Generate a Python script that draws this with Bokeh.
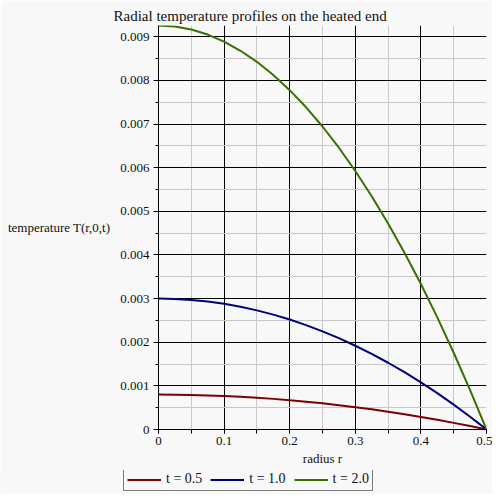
from bokeh.plotting import figure
from bokeh.layouts import column
from bokeh.models import (Range1d, SingleIntervalTicker, CustomJSTickFormatter,
                          Legend, LegendItem)
from bokeh.embed import file_html
from bokeh.resources import INLINE

# radius values (x)
radius = [0.0, 0.025, 0.05, 0.075, 0.1, 0.125, 0.15, 0.175, 0.2, 0.225, 0.25,
          0.275, 0.3, 0.325, 0.35, 0.375, 0.4, 0.425, 0.45, 0.475, 0.5]
# temperature T(r,0,t)
temp_t05 = [0.0008, 0.000798, 0.000792, 0.000782, 0.000768, 0.00075, 0.000728,
            0.000702, 0.000672, 0.000638, 0.0006, 0.000558, 0.000512, 0.000462,
            0.000408, 0.00035, 0.000288, 0.000222, 0.000152, 0.000078, 0.0]
temp_t10 = [0.003, 0.002993, 0.00297, 0.002933, 0.00288, 0.002813, 0.00273,
            0.002633, 0.00252, 0.002393, 0.00225, 0.002093, 0.00192, 0.001733,
            0.00153, 0.001313, 0.00108, 0.000833, 0.00057, 0.000293, 0.0]
temp_t20 = [0.00926, 0.009237, 0.009167, 0.009052, 0.00889, 0.008681, 0.008427,
            0.008126, 0.007778, 0.007385, 0.006945, 0.006459, 0.005926, 0.005348,
            0.004723, 0.004051, 0.003334, 0.00257, 0.001759, 0.000903, 0.0]
series_labels = ["t = 0.5", "t = 1.0", "t = 2.0"]
series_colors = ["#780000", "#000078", "#3a7000"]
series_values = [temp_t05, temp_t10, temp_t20]

FONT = "Liberation Serif"
BG = "#f8f8f8"

p = figure(width=492, height=470, output_backend="svg", toolbar_location=None,
           x_range=Range1d(0, 0.5), y_range=Range1d(0, max(temp_t20)),
           min_border_left=158, min_border_right=6, min_border_top=25,
           min_border_bottom=41, background_fill_color=BG, border_fill_color=BG,
           outline_line_color=None, frame_align=False,
           title="Radial temperature profiles on the heated end")

p.title.align = "left"
p.title.offset = -45
p.title.text_font = FONT
p.title.text_font_size = "15px"
p.title.text_font_style = "normal"
p.title.text_color = "#111111"
p.title.standoff = 3

# grids
for g in (p.xgrid, p.ygrid):
    g.grid_line_color = "black"
    g.grid_line_width = 1
    g.grid_line_alpha = 1
    g.minor_grid_line_color = "#c8c8c8"
    g.minor_grid_line_width = 1

p.xaxis.ticker = SingleIntervalTicker(interval=0.1, num_minor_ticks=2)
p.yaxis.ticker = SingleIntervalTicker(interval=0.001, num_minor_ticks=2)
p.xgrid.ticker = p.xaxis.ticker
p.ygrid.ticker = p.yaxis.ticker

p.xaxis.formatter = CustomJSTickFormatter(code="return Math.abs(tick) < 1e-12 ? '0' : tick.toFixed(1);")
p.yaxis.formatter = CustomJSTickFormatter(code="return Math.abs(tick) < 1e-12 ? '0' : tick.toFixed(3);")

for ax in (p.xaxis[0], p.yaxis[0]):
    ax.axis_line_color = "black"
    ax.major_tick_line_color = "black"
    ax.minor_tick_line_color = "black"
    ax.major_tick_in = 0
    ax.minor_tick_in = 0
    ax.major_label_text_font = FONT
    ax.major_label_text_font_size = "13px"
    ax.major_label_text_color = "#111111"
    ax.axis_label_text_font = FONT
    ax.axis_label_text_font_size = "13px"
    ax.axis_label_text_font_style = "normal"
    ax.axis_label_text_color = "#111111"

p.xaxis.major_tick_out = 4
p.xaxis.minor_tick_out = 4
p.yaxis.major_tick_out = 5
p.yaxis.minor_tick_out = 3
p.xaxis.major_label_standoff = 3
p.yaxis.major_label_standoff = 4
p.xaxis.axis_label = "radius r"
p.xaxis.axis_label_standoff = 3
p.yaxis.axis_label = "temperature T(r,0,t)"
p.yaxis.axis_label_orientation = "horizontal"
p.yaxis.axis_label_standoff = 7

for ys, c in zip(series_values, series_colors):
    p.line(radius, ys, line_color=c, line_width=2)

# legend strip below the plot (its lines lie outside its own view)
pl = figure(width=492, height=24, output_backend="svg", toolbar_location=None,
            x_range=Range1d(10, 11), y_range=Range1d(10, 11),
            x_axis_type=None, y_axis_type=None,
            min_border_left=0, min_border_right=0, min_border_top=0,
            min_border_bottom=0, background_fill_color=BG, border_fill_color=BG,
            outline_line_color=None, frame_align=False)
pl.grid.visible = False
leg_renderers = []
for ys, c in zip(series_values, series_colors):
    leg_renderers.append(pl.line(radius, ys, line_color=c, line_width=2))

legend = Legend(items=[LegendItem(label=l, renderers=[r]) for l, r in zip(series_labels, leg_renderers)],
                orientation="horizontal", location=(123, 3),
                label_text_font=FONT, label_text_font_size="14px",
                label_text_color="#111111", label_text_line_height=1.0,
                glyph_width=34, glyph_height=13, label_height=13,
                label_standoff=5, spacing=8, padding=3, margin=0,
                border_line_color="black", border_line_width=1,
                background_fill_color=BG, background_fill_alpha=1)
pl.add_layout(legend, "center")

layout = column(p, pl, spacing=0)
open("out.html", "w").write(file_html(layout, INLINE))
